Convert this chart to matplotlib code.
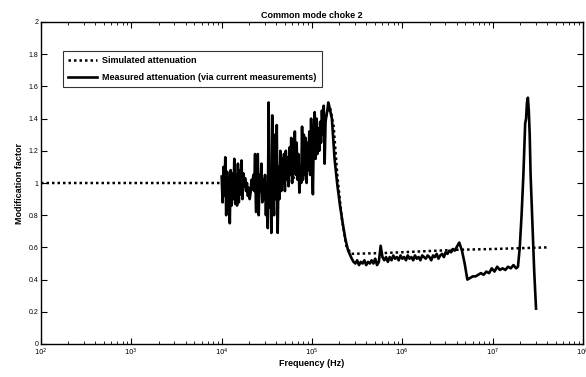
import numpy as np
import matplotlib
matplotlib.use("Agg")
import matplotlib.pyplot as plt
from matplotlib.ticker import LogLocator, FuncFormatter

# ---- data (log10 of frequency in Hz, modification factor) ----
sim_logf = [2.0, 3.0, 4.0, 4.7, 4.85, 4.97, 5.08, 5.16, 5.20, 5.24, 5.28, 5.33,
            5.38, 5.43, 5.8, 6.2, 6.6, 7.0, 7.6]
sim_val = [1.0, 1.0, 1.0, 1.0, 1.05, 1.17, 1.30, 1.42, 1.47, 1.35, 1.05, 0.78,
           0.61, 0.56, 0.565, 0.575, 0.585, 0.59, 0.60]

# noisy low-frequency part, 10 kHz .. 160 kHz (log10 f from 4.00 to 5.19 in 0.01 steps)
meas_noise_val = [
    1.04, 0.88, 1.10, 0.92, 1.16, 0.80, 1.07, 0.95, 1.02, 0.75,
    1.08, 0.86, 1.06, 0.90, 1.15, 0.87, 1.05, 0.86, 1.12, 0.88,
    1.08, 0.93, 1.14, 0.90, 1.06, 0.98, 1.03, 0.95, 1.00, 0.92,
    0.97, 0.90, 0.94, 1.02, 0.96, 1.05, 0.95, 1.18, 0.82, 1.00,
    1.18, 0.80, 1.05, 0.95, 1.12, 0.88, 1.02, 0.90, 1.05, 0.80,
    1.00, 0.72, 1.50, 0.85, 1.05, 0.69, 1.42, 0.95, 0.80, 1.30,
    0.90, 1.36, 0.69, 1.10, 0.90, 1.20, 0.95, 1.15, 1.00, 1.18,
    0.95, 1.20, 1.02, 1.16, 0.98, 1.22, 1.05, 1.28, 1.00, 1.20,
    1.08, 1.32, 1.05, 1.25, 1.02, 1.18, 0.94, 1.10, 1.00, 1.35,
    1.02, 1.30, 1.05, 1.28, 1.00, 1.25, 1.08, 1.32, 1.05, 1.40,
    1.10, 0.93, 1.30, 1.44, 1.15, 1.40, 1.18, 1.34, 1.20, 1.38,
    1.25, 1.45, 1.30, 1.48, 1.12, 1.38, 1.42, 1.45, 1.50, 1.48]
meas_noise_logf = list(np.round(np.arange(4.00, 5.195, 0.01), 2))

# smoother high-frequency part
meas_tail_logf = [5.22, 5.25, 5.28, 5.31, 5.34, 5.37, 5.40,
                  5.44, 5.46, 5.48, 5.50, 5.52, 5.54, 5.56, 5.58, 5.60, 5.62,
                  5.64, 5.66, 5.68, 5.70, 5.72, 5.74, 5.76, 5.78, 5.80, 5.82,
                  5.84, 5.86, 5.88, 5.90, 5.92, 5.94, 5.96, 5.98, 6.00, 6.02,
                  6.04, 6.06, 6.08, 6.10, 6.12, 6.14, 6.16, 6.18, 6.20, 6.22,
                  6.24, 6.26, 6.28, 6.30, 6.32, 6.34, 6.36, 6.38, 6.40, 6.42,
                  6.44, 6.46, 6.48, 6.50, 6.52, 6.54, 6.56, 6.58, 6.60, 6.63,
                  6.66, 6.69, 6.72, 6.75, 6.78, 6.81, 6.84, 6.87, 6.90, 6.93,
                  6.96, 6.99, 7.02, 7.05, 7.08, 7.11, 7.14, 7.17, 7.20, 7.23,
                  7.26, 7.28, 7.30, 7.32, 7.34, 7.36, 7.37, 7.38, 7.39, 7.40,
                  7.41, 7.42, 7.44, 7.46, 7.48]
meas_tail_val = [1.40, 1.15, 0.99, 0.86, 0.75, 0.65, 0.58,
                 0.53, 0.51, 0.50, 0.52, 0.49, 0.51, 0.50, 0.52, 0.49, 0.51,
                 0.50, 0.52, 0.50, 0.53, 0.49, 0.51, 0.61, 0.54, 0.52, 0.54,
                 0.51, 0.54, 0.52, 0.55, 0.53, 0.54, 0.52, 0.55, 0.53, 0.54,
                 0.52, 0.55, 0.53, 0.54, 0.52, 0.55, 0.53, 0.54, 0.52, 0.55,
                 0.54, 0.53, 0.55, 0.54, 0.52, 0.55, 0.54, 0.56, 0.53, 0.55,
                 0.56, 0.54, 0.57, 0.56, 0.58, 0.57, 0.59, 0.58, 0.60, 0.63,
                 0.58, 0.50, 0.40, 0.41, 0.42, 0.42, 0.43, 0.44, 0.43, 0.45,
                 0.44, 0.47, 0.45, 0.48, 0.46, 0.47, 0.46, 0.48, 0.47, 0.49,
                 0.47, 0.48, 0.60, 0.80, 1.05, 1.37, 1.40, 1.50, 1.53, 1.45,
                 1.30, 1.05, 0.75, 0.45, 0.22]

meas_logf = meas_noise_logf + meas_tail_logf
meas_val = meas_noise_val + meas_tail_val

title = "Common mode choke 2"
xlabel = "Frequency (Hz)"
ylabel = "Modification factor"
legend_labels = ["Simulated attenuation", "Measured attenuation (via current measurements)"]

plt.rcParams['font.family'] = ['Liberation Sans', 'DejaVu Sans']

fig = plt.figure(figsize=(5.86, 3.77), dpi=100)
ax = fig.add_axes([41/586, 33/377, (583-41)/586, (344-22)/377])

ax.plot(10**np.array(sim_logf), sim_val, linestyle=(0, (1, 1.2)), color='black',
        linewidth=1.8, label=legend_labels[0])
ax.plot(10**np.array(meas_logf), meas_val, '-', color='black', linewidth=1.9,
        label=legend_labels[1])

ax.set_xscale('log')
ax.set_xlim(1e2, 1e8)
ax.set_ylim(0, 2)
ax.set_yticks(np.arange(0, 2.01, 0.2))
ax.yaxis.set_major_formatter(FuncFormatter(lambda v, p: f"{v:g}"))
ax.xaxis.set_major_locator(LogLocator(base=10, numticks=10))
ax.xaxis.set_minor_locator(LogLocator(base=10, subs=np.arange(2, 10), numticks=20))
ax.xaxis.set_major_formatter(FuncFormatter(lambda v, p: r"$10^{%d}$" % round(np.log10(v))))

ax.tick_params(which='both', direction='in', top=True, right=True, labelsize=5, pad=2)
ax.tick_params(which='major', length=4, width=0.8)
ax.tick_params(which='minor', length=2.5, width=0.6)
for s in ax.spines.values():
    s.set_linewidth(1.0)

ax.set_title(title, fontsize=6.5, fontweight='bold', pad=3)
ax.set_xlabel(xlabel, fontsize=6.5, fontweight='bold', labelpad=1)
ax.set_ylabel(ylabel, fontsize=6.5, fontweight='bold', labelpad=3)

leg = ax.legend(loc='upper left', bbox_to_anchor=(17/542, 1 - 24/322), prop={'weight': 'bold', 'size': 6.5},
                frameon=True, fancybox=False, edgecolor='black', handlelength=3.2,
                borderpad=0.6, labelspacing=0.9, handletextpad=0.6)
leg.get_frame().set_linewidth(0.8)

fig.savefig("out.png", dpi=100)
